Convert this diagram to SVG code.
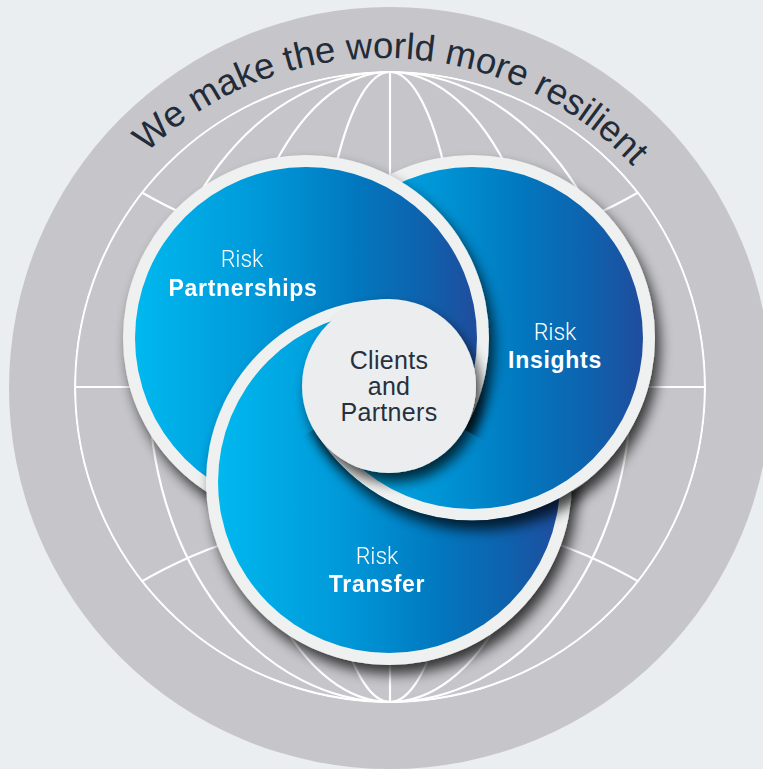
<svg xmlns="http://www.w3.org/2000/svg" xmlns:xlink="http://www.w3.org/1999/xlink" width="763" height="769" viewBox="0 0 763 769">
<style>
.globe{fill:none;stroke:#ffffff;stroke-width:2.2}
.rim{fill:#eff1f0}
.disc{fill:url(#blue)}
.risk{font-family:Roboto,"Liberation Sans",sans-serif;font-weight:300;font-size:23px;fill:#ffffff;text-anchor:middle}
.bold{font-family:"Liberation Sans",Arial,sans-serif;font-weight:700;font-size:23px;fill:#ffffff;text-anchor:middle;letter-spacing:0.7px}
.center{font-family:"Liberation Sans",Arial,sans-serif;font-size:25px;fill:#27303d;text-anchor:middle;letter-spacing:0.3px}
.arc{font-family:"Liberation Sans",Arial,sans-serif;font-size:36.5px;fill:#222b38}
</style>
<defs>
<linearGradient id="blue" x1="0" y1="0" x2="1" y2="0">
<stop offset="0" stop-color="#00b8ef"/>
<stop offset="0.4" stop-color="#0095d6"/>
<stop offset="0.65" stop-color="#0277be"/>
<stop offset="0.85" stop-color="#0f61ad"/>
<stop offset="1" stop-color="#1f4d9d"/>
</linearGradient>
<filter id="sh" x="-30%" y="-30%" width="160%" height="160%">
<feGaussianBlur in="SourceAlpha" stdDeviation="6.5"/>
<feOffset dx="5" dy="9"/>
<feComponentTransfer><feFuncA type="linear" slope="0.74"/></feComponentTransfer>
<feMerge><feMergeNode/><feMergeNode in="SourceGraphic"/></feMerge>
</filter>
<filter id="sho" x="-30%" y="-30%" width="160%" height="160%">
<feGaussianBlur in="SourceAlpha" stdDeviation="6.5"/>
<feOffset dx="5" dy="9"/>
<feComponentTransfer><feFuncA type="linear" slope="0.74"/></feComponentTransfer>
</filter>
<clipPath id="globeClip"><circle cx="390" cy="387" r="316"/></clipPath>
<clipPath id="inT"><circle cx="389" cy="482" r="183.5"/></clipPath>
<clipPath id="halfLower"><polygon points="2987,-1114 4487,1484 -709,4484 -2209,1886"/></clipPath>
<clipPath id="wedgeA"><polygon points="389,386 389,-2000 3000,-2000 3000,1893"/></clipPath>
<clipPath id="wedgeB"><polygon points="389,386 3000,1893 3000,3000 -2000,3000 -2000,1765"/></clipPath>
<mask id="notI" maskUnits="userSpaceOnUse" x="-200" y="-200" width="1163" height="1169">
<rect x="-200" y="-200" width="1163" height="1169" fill="#ffffff"/>
<circle cx="472" cy="338" r="182.5" fill="#000000"/>
</mask>
<mask id="maskP" maskUnits="userSpaceOnUse" x="-200" y="-200" width="1163" height="1169">
<rect x="-200" y="-200" width="1163" height="1169" fill="#ffffff"/>
<g clip-path="url(#wedgeB)"><circle cx="472" cy="338" r="182.5" fill="#000000"/></g>
</mask>
<mask id="maskT" maskUnits="userSpaceOnUse" x="-200" y="-200" width="1163" height="1169">
<rect x="-200" y="-200" width="1163" height="1169" fill="#ffffff"/>
<g clip-path="url(#halfLower)"><circle cx="472" cy="338" r="182.5" fill="#000000"/></g>
<g clip-path="url(#wedgeA)"><circle cx="306" cy="338" r="182.5" fill="#000000"/></g>
</mask>
<path id="arcPath" d="M 41 400 A 342 342 0 0 1 725 400"/>
</defs>

<g id="background">
<rect width="763" height="769" fill="#ebeef0"/>
<circle cx="390" cy="388" r="381" fill="#c6c5ca"/>
<g id="globe" clip-path="url(#globeClip)">
<circle class="globe" cx="390" cy="387" r="315"/>
<ellipse class="globe" cx="390" cy="387" rx="241" ry="315"/>
<ellipse class="globe" cx="390" cy="387" rx="163" ry="315"/>
<ellipse class="globe" cx="390" cy="387" rx="76" ry="315"/>
<line class="globe" x1="390" y1="70" x2="390" y2="704"/>
<line class="globe" x1="70" y1="387" x2="710" y2="387"/>
<circle class="globe" cx="390" cy="-237" r="496"/>
<circle class="globe" cx="390" cy="1011" r="496"/>
</g>
<text class="arc"><textPath href="#arcPath" startOffset="50.9%" text-anchor="middle">We make the world more resilient</textPath></text>
</g>

<g id="node-risk-insights">
<circle class="rim" cx="472" cy="338" r="183" filter="url(#sh)"/>
<circle class="disc" cx="472" cy="338" r="171"/>
<text class="risk" x="555" y="340">Risk</text>
<text class="bold" x="555" y="368">Insights</text>
</g>
<g id="node-risk-partnerships" mask="url(#maskP)">
<circle class="rim" cx="306" cy="338" r="183" filter="url(#sh)"/>
<circle class="disc" cx="306" cy="338" r="171"/>
<text class="risk" x="242" y="267">Risk</text>
<text class="bold" x="243" y="296">Partnerships</text>
</g>
<g id="node-risk-transfer" mask="url(#maskT)">
<circle class="rim" cx="389" cy="482" r="183" filter="url(#sh)"/>
<circle class="disc" cx="389" cy="482" r="171"/>
<text class="risk" x="377" y="564">Risk</text>
<text class="bold" x="377" y="592">Transfer</text>
</g>
<g id="insights-shadow-on-transfer" clip-path="url(#inT)">
<g clip-path="url(#halfLower)"><g mask="url(#notI)"><circle cx="472" cy="338" r="183" fill="#000000" filter="url(#sho)"/></g></g>
</g>

<g id="node-clients-and-partners">
<circle cx="389" cy="386" r="87" fill="#ecedef" filter="url(#sh)"/>
<text class="center" x="389" y="369">Clients</text>
<text class="center" x="389" y="395">and</text>
<text class="center" x="389" y="421">Partners</text>
</g>
</svg>
